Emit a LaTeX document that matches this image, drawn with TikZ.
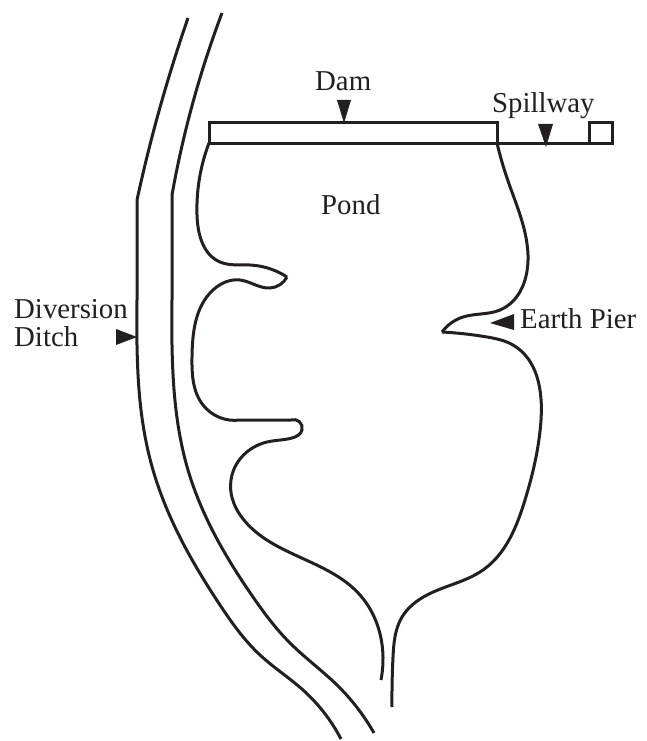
\documentclass[tikz,border=0pt]{standalone}
\usepackage{fontspec}
\setmainfont{Liberation Serif}
\usepackage{xcolor}
\usetikzlibrary{hobby}
\definecolor{inkline}{RGB}{35,31,32}

\begin{document}
\begin{tikzpicture}[
  x=1pt, y=-1pt,
  use Hobby shortcut,
  bank/.style={draw=inkline, line width=3pt},
  pointer/.style={fill=inkline},
  lbl/.style={font=\fontsize{28.8}{32}\selectfont, text=inkline, inner sep=0pt, anchor=base west}
]
\useasboundingbox (0,0) rectangle (647,741);

% ===== DAM AND SPILLWAY =====
\draw[bank] (209,123) -- (497,123) -- (497,143) -- (209,143) -- cycle;
\draw[bank] (497,143) -- (589,143);
\draw[bank] (589,123) -- (612,123) -- (612,143) -- (589,143) -- cycle;

% ===== DIVERSION DITCH =====
\draw[bank] (188,18) .. (165,90) .. (137,200);
\draw[bank] (137,200) -- (137,300) .. (137,345) .. (141,410) .. (153,470) .. (220,605) .. (260,655) .. (303,690) .. (341,739);
\draw[bank] (222,13) .. (195,95) .. (172,195);
\draw[bank] (172,195) -- (172,300) .. (172,345) .. (176,410) .. (188,470) .. (253,597) .. (290,643) .. (337,685) .. (374,733);

% ===== POND, LEFT BANK =====
\draw[bank] (209,143) .. (197,215) .. (220,262) .. (250,265) .. (287,277);
\draw[bank] (287,277) .. (270,288) .. (240,280) .. (213,290) .. (192,357) .. (203,405) .. (240,420) -- (291,420) .. (302,430) .. (292,438) .. (267,442) .. (231,480) .. (270,542) .. (360,595) .. (383,657) .. (381,680);

% ===== POND, RIGHT BANK =====
\draw[bank] (497,143) .. (507,178) .. (528,255) .. (500,310) .. (463,317) .. (442,332);
\draw[bank] (442,332) .. (487,337) .. (513,345) .. (541,420) .. (525,500) .. (483,570) .. (427,595) .. (402,617) .. (393,657) .. (392,707);

% ===== POINTERS =====
\fill[pointer] (337,100) -- (351,100) -- (344,123) -- cycle;
\fill[pointer] (538,124) -- (553,124) -- (546,147) -- cycle;
\fill[pointer] (116,329) -- (137,337) -- (116,345) -- cycle;
\fill[pointer] (514,314) -- (490,323) -- (514,330) -- cycle;

% ===== LABELS =====
\node[lbl] (dam) at (315,91) {Dam};
\node[lbl] (spillway) at (492,113) {Spillway};
\node[lbl] (pond) at (321,214) {Pond};
\node[lbl] (diversion) at (14,318) {Diversion};
\node[lbl] (ditch) at (14,346) {Ditch};
\node[lbl] (pier) at (520,328) {Earth Pier};

\end{tikzpicture}
\end{document}
